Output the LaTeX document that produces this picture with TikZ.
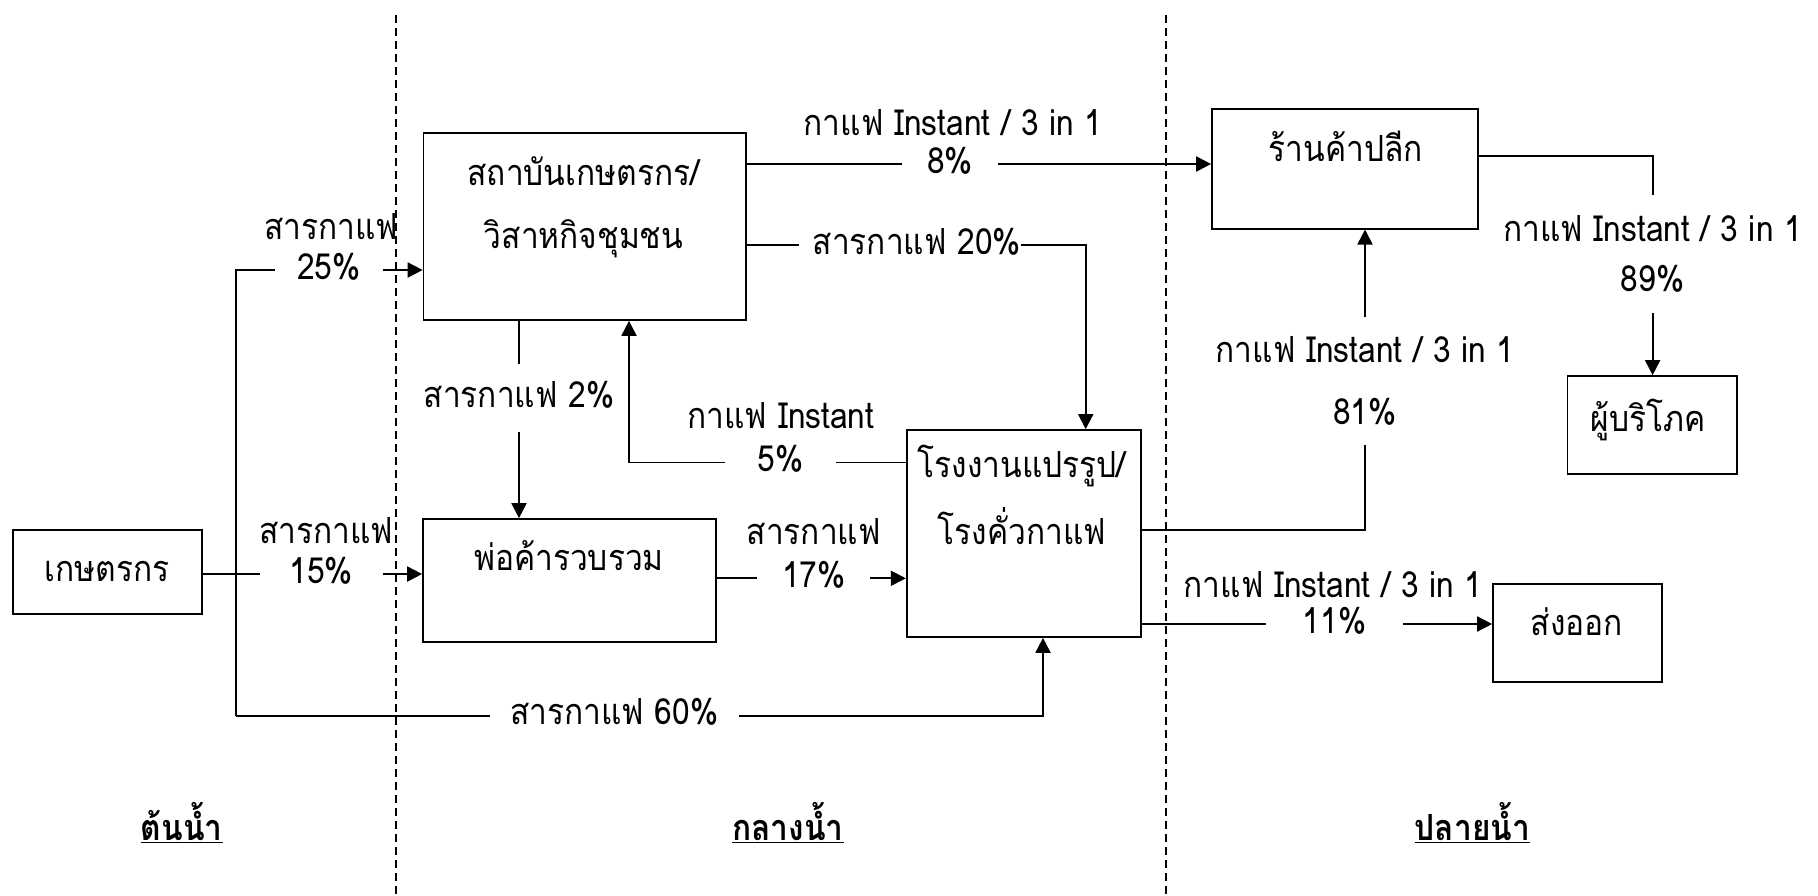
\documentclass[tikz,border=0pt]{standalone}
\usepackage{fontspec}
\setmainfont{Loma}[Script=Thai, FakeStretch=0.88]
\usetikzlibrary{arrows.meta}
\begin{document}
\begin{tikzpicture}[x=1pt,y=-1pt, font=\fontsize{36}{42}\selectfont,
  box/.style={draw, line width=1.7pt, inner sep=0pt},
  txt/.style={inner sep=0pt, anchor=mid, yshift=-8pt},
  gap/.style={inner sep=0pt, text depth=8pt},
  gap2/.style={inner sep=0pt, align=center},
  conn/.style={line width=1.9pt},
  arr/.style={conn, -{Triangle[length=15pt,width=15pt]}},
  sect/.style={inner sep=0pt, anchor=mid, yshift=-6pt, font=\fontsize{36}{42}\selectfont\bfseries},
  divider/.style={line width=2pt, dash pattern=on 7.5pt off 5.5pt}]
\useasboundingbox (0,0) rectangle (1818,895);

% boxes
\node[box, minimum width=189pt, minimum height=84pt] (b1) at (107.5,572) {};
\node[box, minimum width=322.5pt, minimum height=187pt] (b2) at (584.75,226.5) {};
\node[box, minimum width=293pt, minimum height=122.7pt] (b3) at (569.5,580.35) {};
\node[box, minimum width=234.3pt, minimum height=207pt] (b4) at (1023.85,533.5) {};
\node[box, minimum width=266pt, minimum height=120pt] (b5) at (1345,168.7) {};
\node[box, minimum width=169.5pt, minimum height=98pt] (b6) at (1652.25,425) {};
\node[box, minimum width=169pt, minimum height=98pt] (b7) at (1577.5,633) {};

% box texts
\node[txt] (t1) at (107,570.7) {เกษตรกร};
\node[txt] (t2a) at (583.5,175) {สถาบันเกษตรกร/};
\node[txt] (t2b) at (583.5,238.3) {วิสาหกิจชุมชน};
\node[txt] (t3) at (569,560) {พ่อค้ารวบรวม};
\node[txt] (t4a) at (1022,467) {โรงงานแปรรูป/};
\node[txt] (t4b) at (1022,534) {โรงคั่วกาแฟ};
\node[txt] (t5) at (1345.6,150.7) {ร้านค้าปลีก};
\node[txt] (t6) at (1648,421) {ผู้บริโภค};
\node[txt] (t7) at (1577,625) {ส่งออก};

% farmers trunk, 25%
\coordinate (jt) at (236,270);
\coordinate (jb) at (236,715.7);
\node[gap, minimum width=107pt] (g25) at (329,270) {25\%};
\node[txt] (l25) at (331,229) {สารกาแฟ};
\draw[conn] (jb) -- (jt) -- (g25.west);
\draw[arr] (g25.east) -- (b2.west |- g25.east);

% 15%
\node[gap, minimum width=122.6pt] (g15) at (321.3,574) {15\%};
\node[txt] (l15) at (326,532.5) {สารกาแฟ};
\draw[conn] (b1.east |- g15.west) -- (g15.west);
\draw[arr] (g15.east) -- (b3.west |- g15.east);

% 60%
\node[gap, minimum width=248pt] (g60) at (614.35,715.7) {สารกาแฟ 60\%};
\coordinate (c60) at (1043,715.7);
\draw[conn] (jb) -- (g60.west);
\draw[arr] (g60.east) -- (c60) -- (b4.south -| c60);

% 2%
\node[gap, minimum height=68pt] (g2) at (519,398) {สารกาแฟ 2\%};
\draw[conn] (b2.south -| g2.north) -- (g2.north);
\draw[arr] (g2.south) -- (b3.north -| g2.south);

% 5%
\node[gap, minimum width=111pt] (g5) at (780.5,462.5) {5\%};
\node[txt] (l5) at (781,417.5) {กาแฟ Instant};
\coordinate (c5) at (629,462.5);
\draw[conn] (b4.west |- g5.east) -- (g5.east);
\draw[arr] (g5.west) -- (c5) -- (b2.south -| c5);

% 17%
\node[gap, minimum width=112.5pt] (g17) at (813.75,578.3) {17\%};
\node[txt] (l17) at (813.7,533.7) {สารกาแฟ};
\draw[conn] (b3.east |- g17.west) -- (g17.west);
\draw[arr] (g17.east) -- (b4.west |- g17.east);

% 20%
\node[gap, anchor=east] (g20) at (1021,245.3) {สารกาแฟ 20\%};
\coordinate (c20) at (1085.7,245.3);
\draw[conn] (b2.east |- g20.west) -- ([xshift=-14pt]g20.west);
\draw[arr] (g20.east) -- (c20) -- (b4.north -| c20);

% 8%
\node[gap, minimum width=96.2pt] (g8) at (949.9,164) {8\%};
\node[txt] (l8) at (953,125) {กาแฟ Instant / 3 in 1};
\draw[conn] (b2.east |- g8.west) -- (g8.west);
\draw[arr] (g8.east) -- (b5.west |- g8.east);

% 81%
\node[gap2, minimum height=128pt, font=\fontsize{36}{62}\selectfont] (g81) at (1365,381) {กาแฟ Instant / 3 in 1\\81\%};
\coordinate (c81) at (1365,530);
\draw[conn] (b4.east |- c81) -- (c81) -- (g81.south);
\draw[arr] (g81.north) -- (b5.south -| g81.north);

% 89%
\coordinate (c89) at (1652.6,155.7);
\node[gap2, minimum height=117.4pt, font=\fontsize{36}{50}\selectfont] (g89) at (1652.6,254) {กาแฟ Instant / 3 in 1\\89\%};
\draw[conn] (b5.east |- c89) -- (c89) -- (g89.north);
\draw[arr] (g89.south) -- (b6.north -| g89.south);

% 11%
\node[gap, minimum width=137pt] (g11) at (1334.5,624) {11\%};
\node[txt] (l11) at (1333,586.7) {กาแฟ Instant / 3 in 1};
\draw[conn] (b4.east |- g11.west) -- (g11.west);
\draw[arr] (g11.east) -- (b7.west |- g11.east);

% section labels
\node[sect] (s1) at (181.7,831.7) {\underline{ต้นน้ำ}};
\node[sect] (s2) at (788,831.7) {\underline{กลางน้ำ}};
\node[sect] (s3) at (1472.4,831.7) {\underline{ปลายน้ำ}};

% dividers
\coordinate (d1t) at (396.3,15);
\coordinate (d1b) at (396.3,895);
\coordinate (d2t) at (1165.5,15);
\coordinate (d2b) at (1165.5,895);
\draw[divider] (d1t) -- (d1b);
\draw[divider] (d2t) -- (d2b);
\end{tikzpicture}
\end{document}
